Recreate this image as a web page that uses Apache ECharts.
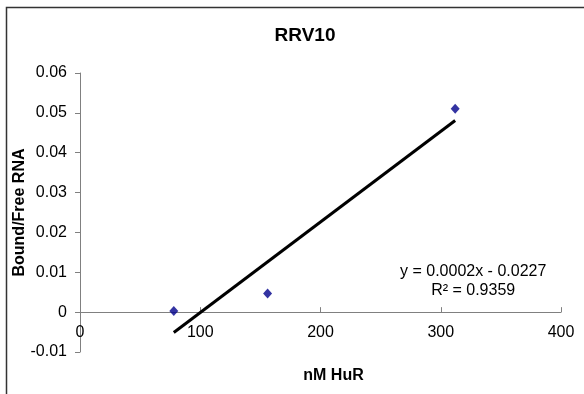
<!DOCTYPE html>
<html>
<head>
<meta charset="utf-8">
<script src="https://cdn.jsdelivr.net/npm/echarts@6/dist/echarts.min.js"></script>
<style>html,body{margin:0;padding:0;background:#fff}#c{width:584px;height:394px}</style>
</head>
<body>
<div id="c"></div>
<script>
var pointX = [78, 156, 312];
var pointY = [0.0003, 0.0047, 0.051];
var trendX = [78, 312];
var trendY = [-0.0051, 0.0481];
var equationText = 'y = 0.0002x - 0.0227';
var r2Text = 'R² = 0.9359';

var chart = echarts.init(document.getElementById('c'), null, {renderer: 'canvas'});
var F = 'Arial, "Liberation Sans", sans-serif';
chart.setOption({
  animation: false,
  backgroundColor: '#fff',
  title: {
    text: 'RRV10', left: 300, top: 21, textAlign: 'center',
    textStyle: {fontFamily: F, fontSize: 19, fontWeight: 'bold', color: '#000'}
  },
  grid: {left: 80, right: 23, top: 73, bottom: 42, outerBoundsMode: 'none', containLabel: false},
  xAxis: {
    type: 'value', min: 0, max: 400, interval: 100,
    name: 'nM HuR', nameLocation: 'middle', nameGap: 16,
    nameTextStyle: {fontFamily: F, fontSize: 16, fontWeight: 'bold', color: '#000', padding: [0, 0, 0, 26]},
    axisLine: {onZero: true, lineStyle: {color: '#808080', width: 1}},
    axisTick: {inside: true, length: 5, lineStyle: {color: '#808080'}},
    axisLabel: {fontFamily: F, fontSize: 16, color: '#000', margin: -27},
    splitLine: {show: false}
  },
  yAxis: {
    type: 'value', min: -0.01, max: 0.06, interval: 0.01,
    name: 'Bound/Free RNA', nameLocation: 'middle', nameGap: 52, nameRotate: 90,
    nameMoveOverlap: false,
    nameTextStyle: {fontFamily: F, fontSize: 16, fontWeight: 'bold', color: '#000'},
    axisLine: {show: true, lineStyle: {color: '#808080', width: 1}},
    axisTick: {show: true, length: 5, lineStyle: {color: '#808080'}},
    axisLabel: {fontFamily: F, fontSize: 16, color: '#000', margin: 13,
      formatter: function (v) { return String(Math.round(v * 100) / 100); }},
    splitLine: {show: false}
  },
  graphic: [
    {type: 'rect', shape: {x: 6.5, y: 7.5, width: 600, height: 420}, style: {fill: null, stroke: '#333', lineWidth: 1.5}, silent: true},
    {type: 'text', left: 400, top: 262, style: {text: equationText + '\n' + r2Text, fontFamily: F, fontSize: 16, fill: '#000', textAlign: 'center', lineHeight: 19, x: 82}}
  ],
  series: [
    {
      type: 'line', data: trendX.map(function (x, i) { return [x, trendY[i]]; }),
      symbol: 'none', lineStyle: {color: '#000', width: 3}, z: 2
    },
    {
      type: 'scatter', data: pointX.map(function (x, i) { return [x, pointY[i]]; }),
      symbol: 'diamond', symbolSize: [9, 10], itemStyle: {color: '#00008B'}, z: 3
    }
  ]
});
</script>
</body>
</html>
